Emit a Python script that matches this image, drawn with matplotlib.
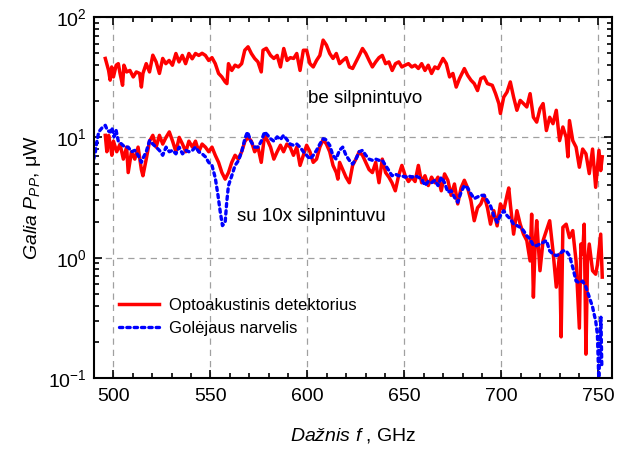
import matplotlib

matplotlib.use("Agg")
import matplotlib.pyplot as plt
from matplotlib.ticker import FixedLocator, LogLocator, NullFormatter

plt.rcParams["font.family"] = ["Liberation Sans", "DejaVu Sans"]
plt.rcParams["mathtext.fontset"] = "custom"
plt.rcParams["mathtext.rm"] = "Liberation Sans"
plt.rcParams["mathtext.it"] = "Liberation Sans:italic"

# be silpnintuvo (optoacoustic detector, no amplifier)
f_upper = [495.8, 497.5, 498.3, 499.1, 500.0, 501.4, 502.5, 503.4, 504.7, 505.4, 506.8, 508.5,
           510.2, 511.8, 513.5, 514.4, 515.2, 516.9, 518.6, 520.3, 522.0, 523.7, 525.4, 527.0,
           528.7, 530.4, 532.2, 533.8, 535.5, 537.2, 538.9, 540.6, 542.3, 544.0, 545.7, 547.4,
           549.1, 550.8, 552.5, 554.2, 555.9, 557.6, 558.5, 559.3, 561.0, 562.7, 564.4, 566.1,
           567.7, 569.4, 571.1, 572.8, 574.5, 576.2, 577.1, 578.8, 581.0, 582.7, 584.4, 586.1,
           587.8, 589.5, 591.2, 592.9, 594.5, 596.2, 597.9, 599.6, 601.3, 603.0, 604.7, 606.4,
           608.1, 609.8, 611.5, 613.2, 614.9, 616.6, 618.3, 620.0, 621.6, 623.3, 625.0, 626.7,
           628.4, 630.1, 631.8, 633.5, 635.2, 636.9, 638.6, 640.3, 642.0, 643.7, 645.4, 647.1,
           648.7, 650.4, 652.1, 653.8, 655.5, 657.2, 658.9, 660.6, 662.3, 664.0, 665.7, 667.3,
           669.9, 671.6, 673.3, 675.0, 676.7, 678.4, 680.9, 682.6, 684.3, 686.0, 687.7, 689.4,
           691.1, 692.8, 695.3, 697.0, 698.7, 699.5, 701.2, 702.9, 704.6, 706.3, 708.0, 709.7,
           711.4, 713.1, 714.8, 716.5, 718.2, 719.9, 721.5, 723.2, 724.9, 726.6, 728.3, 730.0,
           731.7, 733.4, 734.3, 735.1, 736.8, 738.5, 740.2, 741.9, 743.6, 745.3, 747.0, 748.6,
           750.3, 751.2, 752.0]
p_upper = [45.3, 36, 29.9, 38.5, 31.8, 39.8, 41, 34, 27.1, 39.8, 35, 36,
           31.8, 35, 34, 26.2, 34, 41, 35, 48.2, 42.4, 34, 45.3, 41,
           43.6, 39.8, 49.8, 42.4, 48, 41, 49.8, 45, 49.8, 48, 50, 48,
           43.6, 46, 41, 34, 31.8, 28.9, 28, 41, 36, 39.8, 38.5, 41,
           53, 56.6, 49.8, 45.3, 42.4, 35, 53, 55, 48, 45.3, 48, 38.5,
           54.8, 43.6, 46, 45.3, 49.8, 36, 53, 53, 41, 38.5, 43.6, 48,
           64.3, 58.5, 49.8, 45.3, 49.8, 41, 43.6, 46, 38.5, 37.4, 42.4, 48,
           54.8, 49.8, 43.6, 38.5, 42.4, 46, 48, 41, 42.4, 36, 41, 42.4,
           38.5, 39.8, 41, 38.5, 39.8, 37.4, 41, 36, 39.8, 34, 38.5, 37.3,
           45.3, 41, 31.8, 34, 26.2, 30.8, 37.3, 32.8, 29.9, 28, 24.5, 30.8,
           31.8, 28, 27.1, 23.1, 19.1, 15.8, 21.6, 23.8, 28.9, 21.6, 16.8, 20.3,
           19.1, 17.9, 23.1, 14.7, 13.4, 17.3, 19.1, 11.4, 14.7, 13.0, 16.8, 9.4,
           12.2, 10.0, 6.9, 13.8, 9.4, 8.3, 5.65, 8.0, 7.3, 5.0, 8.0, 3.85,
           7.8, 5.3, 6.9]

# su 10x silpnintuvu (optoacoustic detector, 10x amplifier)
f_lower = [495.8, 496.6, 497.5, 498.3, 499.2, 500.0, 501.7, 503.4, 505.1, 506.8, 507.6, 509.3,
           511.0, 512.7, 514.4, 515.2, 516.9, 518.6, 520.3, 522.0, 523.7, 525.4, 527.1, 528.8,
           530.5, 532.2, 533.9, 535.6, 537.3, 538.9, 540.7, 542.3, 544.0, 545.7, 547.4, 549.1,
           550.8, 552.5, 554.2, 555.9, 557.6, 559.3, 561.0, 562.7, 564.4, 566.1, 567.8, 569.5,
           571.1, 572.8, 574.5, 576.2, 577.9, 579.6, 581.0, 582.7, 584.4, 586.1, 587.7, 589.4,
           591.1, 592.8, 594.5, 596.2, 597.9, 599.6, 601.3, 603.0, 604.7, 606.4, 608.1, 609.8,
           611.5, 613.2, 614.9, 615.7, 616.6, 618.2, 619.9, 621.6, 623.3, 625.0, 626.7, 628.4,
           630.1, 631.8, 633.5, 635.2, 636.9, 638.6, 640.3, 642.0, 643.6, 645.3, 647.0, 648.7,
           650.4, 652.1, 653.8, 655.5, 657.2, 658.9, 660.6, 662.3, 664.0, 665.7, 667.3, 669.0,
           670.7, 672.4, 674.1, 675.8, 677.5, 679.2, 680.9, 682.6, 684.3, 686.0, 687.7, 689.4,
           691.1, 692.8, 694.4, 696.1, 697.8, 699.5, 701.2, 702.9, 703.8, 704.6, 706.3, 708.0,
           709.7, 711.4, 713.1, 714.8, 715.6, 716.5, 717.4, 718.2, 719.9, 721.5, 723.2, 724.9,
           726.6, 728.3, 730.0, 730.8, 731.7, 733.4, 735.1, 736.8, 738.5, 740.2, 741.0, 741.9,
           742.7, 743.6, 744.4, 745.3, 747.0, 748.6, 749.5, 750.3, 751.2, 752.0]
p_lower = [10.4, 7.6, 10.4, 8.8, 7.1, 9.3, 7.6, 8.8, 6.6, 8.3, 5.1, 7.6,
           6.6, 8.3, 5.4, 4.8, 6.6, 9.3, 10.4, 8.3, 10.4, 8.8, 10.0, 11.1,
           9.3, 7.6, 10.0, 8.8, 7.6, 9.3, 8.3, 9.3, 7.6, 8.8, 8.3, 7.6,
           8.3, 7.1, 6.2, 5.1, 4.5, 5.1, 6.2, 7.1, 6.6, 7.6, 9.3, 10.0,
           9.3, 7.6, 8.3, 6.2, 10.4, 9.3, 8.3, 6.6, 7.6, 8.6, 7.6, 8.8,
           8.3, 7.1, 8.3, 5.85, 7.1, 8.6, 7.6, 6.2, 6.6, 8.3, 9.6, 8.8,
           7.6, 5.85, 5.1, 4.5, 6.2, 5.4, 4.67, 4.2, 5.85, 6.6, 7.6, 7.1,
           6.2, 5.4, 5.1, 6.2, 4.2, 6.6, 5.1, 4.67, 4.2, 3.6, 4.8, 5.85,
           4.8, 4.3, 4.67, 4.3, 5.85, 4.2, 4.8, 3.98, 4.67, 4.2, 4.67, 3.6,
           4.97, 4.4, 3.3, 4.1, 2.8, 3.8, 4.4, 3.8, 2.98, 2.03, 2.6, 2.8,
           3.3, 2.6, 1.9, 2.46, 1.84, 2.8, 2.46, 3.3, 3.8, 2.8, 1.57, 2.46,
           1.9, 1.57, 1.39, 0.94, 2.3, 0.47, 1.3, 2.03, 0.78, 1.39, 1.68, 2.03,
           1.14, 0.57, 1.07, 0.22, 1.79, 1.9, 1.47, 1.68, 0.94, 0.26, 1.3, 1.07,
           1.9, 0.158, 0.94, 1.3, 0.78, 0.73, 0.87, 1.14, 1.57, 0.69]

# Golay cell
f_golay = [489.8, 490.7, 491.5, 492.4, 494.1, 495.8, 496.9, 498.3, 499.2, 500.3, 501.4, 502.5,
           504.2, 505.9, 507.6, 509.3, 511.0, 512.7, 514.4, 515.6, 516.9, 518.6, 520.3, 522.0,
           523.7, 525.4, 527.1, 528.8, 530.5, 532.2, 533.9, 535.6, 537.3, 538.9, 540.7, 542.3,
           544.0, 545.7, 547.4, 549.1, 550.8, 552.5, 553.9, 555.1, 556.2, 557.6, 558.4, 559.3,
           561.0, 562.7, 564.4, 566.1, 567.8, 569.1, 570.8, 572.8, 574.5, 576.2, 577.9, 579.6,
           581.0, 582.7, 584.4, 586.1, 587.7, 589.4, 591.1, 592.8, 594.5, 596.2, 597.9, 599.6,
           601.3, 603.0, 604.7, 606.4, 608.1, 609.4, 611.5, 613.1, 614.8, 616.5, 618.2, 619.9,
           621.6, 623.3, 625.0, 626.7, 628.4, 630.1, 631.8, 633.5, 635.2, 636.9, 638.6, 640.3,
           642.0, 643.6, 645.3, 647.0, 648.7, 650.4, 652.1, 653.8, 655.5, 657.2, 658.9, 660.6,
           662.3, 664.0, 665.7, 667.3, 669.0, 670.7, 672.4, 674.1, 675.8, 677.5, 679.2, 680.9,
           682.6, 684.3, 686.0, 687.7, 689.4, 691.1, 692.8, 694.4, 696.1, 697.8, 699.5, 701.2,
           702.9, 704.6, 706.3, 708.0, 709.7, 711.4, 713.1, 714.8, 716.5, 718.2, 719.9, 721.5,
           723.2, 724.9, 726.6, 728.3, 730.0, 731.7, 733.4, 735.1, 736.8, 738.5, 740.2, 741.9,
           743.6, 745.3, 747.0, 747.8, 748.6, 749.5, 750.2, 751.3, 751.8]
p_golay = [6.6, 7.6, 9.3, 11.1, 12.0, 12.6, 11.4, 11.1, 12.0, 10.1, 11.4, 9.3,
           8.8, 8.3, 8.3, 7.6, 7.8, 7.1, 6.2, 6.9, 7.6, 9.4, 8.8, 8.3,
           7.8, 7.1, 8.3, 7.6, 7.8, 7.3, 8.3, 7.3, 7.8, 7.6, 7.8, 8.3,
           7.6, 7.3, 6.9, 6.2, 5.85, 4.6, 3.3, 2.38, 1.85, 1.97, 2.9, 3.98,
           4.8, 5.85, 6.4, 7.6, 9.8, 11.1, 9.3, 8.3, 8.3, 9.3, 11.1, 10.4,
           9.75, 9.3, 10.1, 9.6, 10.4, 9.6, 8.8, 8.6, 8.8, 8.3, 7.6, 7.1,
           6.6, 7.1, 7.8, 8.8, 9.75, 9.6, 8.6, 7.1, 6.6, 7.8, 8.3, 7.1,
           6.45, 6.0, 6.6, 7.6, 7.8, 7.1, 6.6, 6.45, 6.6, 6.45, 6.45, 5.85,
           5.3, 4.8, 4.95, 4.8, 4.8, 4.67, 4.8, 4.67, 4.8, 4.67, 4.5, 3.98,
           4.3, 4.2, 4.4, 3.98, 4.67, 4.2, 3.5, 3.6, 3.18, 2.89, 3.5, 3.98,
           3.8, 3.4, 3.1, 3.2, 3.3, 3.3, 2.98, 2.7, 2.24, 1.97, 2.24, 2.46,
           2.24, 2.1, 1.9, 1.85, 1.79, 1.68, 1.52, 1.43, 1.26, 1.26, 1.3, 1.34,
           1.39, 1.14, 1.07, 1.04, 1.07, 1.14, 1.14, 1.04, 0.83, 0.64, 0.62, 0.64,
           0.57, 0.47, 0.39, 0.34, 0.30, 0.23, 0.10, 0.32, 0.12]

x_major = [500, 550, 600, 650, 700, 750]

fig = plt.figure(figsize=(6.27, 4.49), dpi=100)
ax = fig.add_axes([0.150, 0.158, 0.826, 0.804])

ax.plot(f_upper, p_upper, color="#ff0000", linewidth=2.5, solid_joinstyle="round",
        label="Optoakustinis detektorius")
ax.plot(f_lower, p_lower, color="#ff0000", linewidth=2.5, solid_joinstyle="round")
ax.plot(f_golay, p_golay, color="#0000ff", linewidth=2.4, linestyle=(0, (1, 1.2)),
        dash_capstyle="round", label="Golėjaus narvelis")

ax.set_yscale("log")
ax.set_xlim(490, 757)
ax.set_ylim(0.1, 100)
ax.xaxis.set_major_locator(FixedLocator(x_major))
ax.xaxis.set_minor_locator(FixedLocator(list(range(490, 760, 10))))
ax.yaxis.set_major_locator(LogLocator(base=10))
ax.yaxis.set_minor_locator(LogLocator(base=10, subs=range(2, 10)))
ax.yaxis.set_minor_formatter(NullFormatter())

ax.grid(True, which="major", color="#a0a0a0", linestyle=(0, (5, 4)), linewidth=0.9)
ax.tick_params(which="both", direction="in", top=True, right=True, width=1.2,
               labelsize=14)
ax.tick_params(axis="x", pad=7)
ax.tick_params(axis="y", pad=5)
ax.tick_params(which="major", length=6)
ax.tick_params(which="minor", length=3.5)
for spine in ax.spines.values():
    spine.set_linewidth(1.5)

ax.set_xlabel(r"$\mathit{Dažnis\ f}$ , GHz", fontsize=14, labelpad=15)
ax.set_ylabel(r"$\mathit{Galia\ P}_{\mathit{PP}}$, μW", fontsize=14, labelpad=4)

ax.text(630, 21, "be silpnintuvo", fontsize=13.5, ha="center", va="center")
ax.text(602, 2.2, "su 10x silpnintuvu", fontsize=13.5, ha="center", va="center")

ax.legend(loc="lower left", bbox_to_anchor=(0.02, 0.075), frameon=False, fontsize=12,
          handlelength=2.4, handletextpad=0.6, labelspacing=0.5)

fig.savefig("out.png", dpi=100)
